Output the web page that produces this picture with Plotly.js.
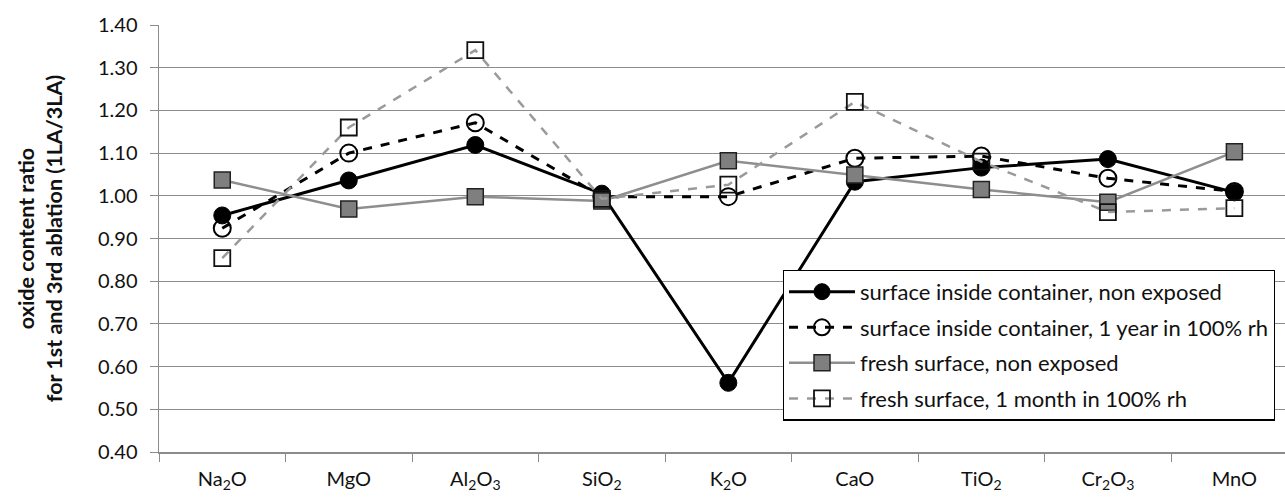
<!DOCTYPE html>
<html>
<head>
<meta charset="utf-8">
<script src="https://cdn.plot.ly/plotly-3.0.1.min.js"></script>
<style>html,body{margin:0;padding:0;background:#fff;}#chart{width:1285px;height:497px;}</style>
</head>
<body>
<div id="chart"></div>
<script>
const categories = ['Na<sub>2</sub>O','MgO','Al<sub>2</sub>O<sub>3</sub>','SiO<sub>2</sub>','K<sub>2</sub>O','CaO','TiO<sub>2</sub>','Cr<sub>2</sub>O<sub>3</sub>','MnO'];
const seriesNames = ['surface inside container, non exposed','surface inside container, 1 year in 100% rh','fresh surface, non exposed','fresh surface, 1 month in 100% rh'];
const insideNonExposed = [0.954, 1.036, 1.119, 1.005, 0.562, 1.033, 1.066, 1.086, 1.008];
const insideOneYear    = [0.924, 1.100, 1.171, 0.998, 0.998, 1.088, 1.093, 1.041, 1.010];
const freshNonExposed  = [1.037, 0.969, 0.998, 0.988, 1.082, 1.049, 1.015, 0.985, 1.103];
const freshOneMonth    = [0.854, 1.160, 1.341, 0.993, 1.026, 1.220, 1.080, 0.962, 0.971];
const yTickVals = [0.4,0.5,0.6,0.7,0.8,0.9,1.0,1.1,1.2,1.3,1.4];

const FONT = 'Lato, "Liberation Sans", sans-serif';
const traces = [
  {x: categories, y: insideNonExposed, name: seriesNames[0], legendgroup:'a', mode:'lines+markers',
   line:{color:'#000', width:3}, marker:{symbol:'circle', size:17, color:'#000', line:{color:'#000', width:1}}},
  {x: categories, y: insideOneYear, name: seriesNames[1], legendgroup:'b', mode:'lines+markers',
   line:{color:'#000', width:3, dash:'dash'}, marker:{symbol:'circle-open', size:17, color:'#000', line:{width:2}}},
  {x: categories, y: freshNonExposed, name: seriesNames[2], legendgroup:'c', mode:'lines+markers',
   line:{color:'#8e8e8e', width:2.5}, marker:{symbol:'square', size:16, color:'#7f7f7f', line:{color:'#222', width:1.5}}},
  {x: categories, y: freshOneMonth, name: seriesNames[3], legendgroup:'d', mode:'lines+markers',
   line:{color:'#9a9a9a', width:2.5, dash:'dash'}, marker:{symbol:'square-open', size:16, color:'#111', line:{width:1.8}}}
];

const layout = {
  width:1285, height:497,
  margin:{l:159, r:0, t:25, b:45},
  paper_bgcolor:'#fff', plot_bgcolor:'#fff',
  font:{family:FONT, size:20, color:'#222'},
  showlegend:true,
  legend:{x:0.554, y:0.427, xanchor:'left', yanchor:'top', bgcolor:'#fff', bordercolor:'#000', borderwidth:1.2,
    font:{family:FONT, size:22, color:'#111'}, itemwidth:66, traceorder:'grouped', tracegroupgap:4},
  xaxis:{type:'category', range:[-0.5, 8.4], tickson:'boundaries', ticks:'outside', ticklen:8, tickcolor:'#8c8c8c',
    showline:true, linecolor:'#8c8c8c', linewidth:1.5, showgrid:false, zeroline:false,
    tickfont:{family:FONT, size:20, color:'#111'}, ticklabelstandoff:8, fixedrange:true},
  yaxis:{range:[0.4,1.4], tickvals:yTickVals, tickformat:'.2f', ticks:'outside', ticklen:8, tickcolor:'#8c8c8c',
    showline:true, linecolor:'#8c8c8c', linewidth:1.5, showgrid:true, gridcolor:'#8c8c8c', gridwidth:1.2, zeroline:false,
    tickfont:{family:FONT, size:20, color:'#111'}, ticklabelstandoff:8,
    title:{text:'<b>oxide content ratio<br>for 1st and 3rd ablation (1LA/3LA)</b>', font:{family:FONT, size:21.5, color:'#111'}, standoff:29}}
};
Plotly.newPlot('chart', traces, layout, {displayModeBar:false, staticPlot:true});
</script>
</body>
</html>
